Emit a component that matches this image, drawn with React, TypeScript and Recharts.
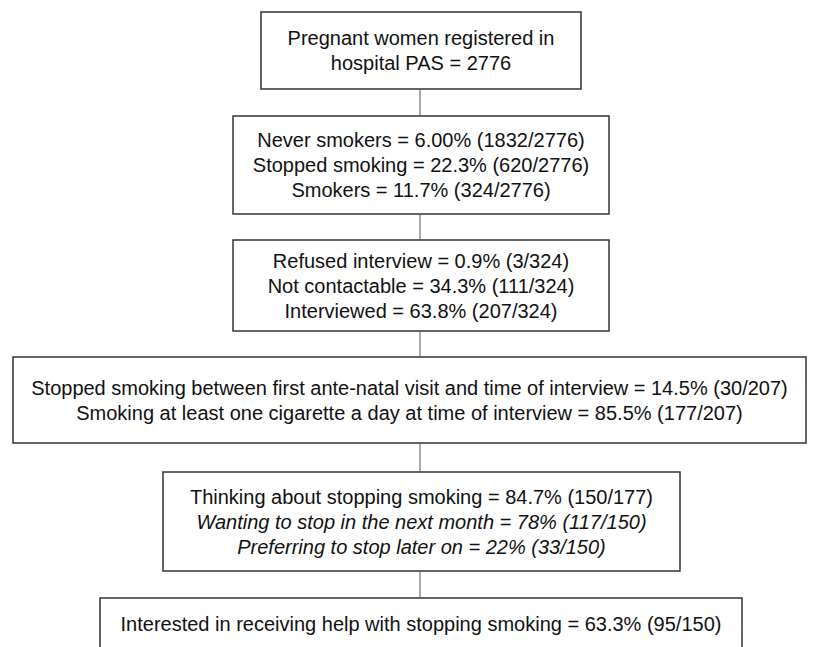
import { ComposedChart, XAxis, YAxis, ReferenceArea, ReferenceLine } from "recharts";

// box contents, top to bottom
const boxTexts: string[][] = [
  ["Pregnant women registered in", "hospital PAS = 2776"],
  [
    "Never smokers = 6.00% (1832/2776)",
    "Stopped smoking = 22.3% (620/2776)",
    "Smokers = 11.7% (324/2776)",
  ],
  [
    "Refused interview = 0.9% (3/324)",
    "Not contactable = 34.3% (111/324)",
    "Interviewed = 63.8% (207/324)",
  ],
  [
    "Stopped smoking between first ante-natal visit and time of interview = 14.5% (30/207)",
    "Smoking at least one cigarette a day at time of interview = 85.5% (177/207)",
  ],
  [
    "Thinking about stopping smoking = 84.7% (150/177)",
    "Wanting to stop in the next month = 78% (117/150)",
    "Preferring to stop later on = 22% (33/150)",
  ],
  ["Interested in receiving help with stopping smoking = 63.3% (95/150)"],
];

// which lines are sub-items (italic)
const subItems: boolean[][] = [
  [false, false],
  [false, false, false],
  [false, false, false],
  [false, false],
  [false, true, true],
  [false],
];

// layout in page pixels
const W = 819;
const H = 647;
const MID = 420;
const boxLeft = [261, 233, 233, 13, 163, 100];
const boxRight = [581, 609, 609, 806, 680, 742];
const boxTop = [12, 116, 240, 357, 472, 598];
const boxBottom = [89, 214, 331, 443, 571, 650];

const FONT = "'Liberation Sans', Arial, sans-serif";
const LINE_H = 25;

const BoxLabel = (props: any) => {
  const { viewBox, lines, italics } = props;
  if (!viewBox) return null;
  const cx = viewBox.x + viewBox.width / 2;
  const cy = viewBox.y + viewBox.height / 2;
  const start = cy - ((lines.length - 1) * LINE_H) / 2;
  return (
    <g>
      {lines.map((t: string, i: number) => (
        <text
          key={i}
          x={cx}
          y={start + i * LINE_H}
          textAnchor="middle"
          dominantBaseline="central"
          fontFamily={FONT}
          fontSize={20}
          fontStyle={italics[i] ? "italic" : "normal"}
          fill="#111"
        >
          {t}
        </text>
      ))}
    </g>
  );
};

export default function App() {
  return (
    <div style={{ position: "absolute", left: 0, top: 0, width: W, height: H, background: "#fff" }}>
      <ComposedChart width={W} height={H} data={[{ x: 0, y: 0 }]} margin={{ top: 0, right: 0, bottom: 0, left: 0 }}>
        <XAxis type="number" dataKey="x" domain={[0, W]} hide allowDataOverflow />
        <YAxis type="number" dataKey="y" domain={[0, H]} reversed hide allowDataOverflow width={0} />
        {boxTexts.slice(1).map((_, i) => (
          <ReferenceLine
            key={`c-${i}`}
            segment={[
              { x: MID, y: boxBottom[i] },
              { x: MID, y: boxTop[i + 1] },
            ]}
            stroke="#555"
            strokeWidth={1}
            ifOverflow="visible"
          />
        ))}
        {boxTexts.map((lines, i) => (
          <ReferenceArea
            key={`b-${i}`}
            x1={boxLeft[i]}
            x2={boxRight[i]}
            y1={boxTop[i]}
            y2={boxBottom[i]}
            fill="#fff"
            fillOpacity={1}
            stroke="#333"
            strokeWidth={1.5}
            ifOverflow="visible"
            label={(p: any) => <BoxLabel viewBox={p.viewBox} lines={lines} italics={subItems[i]} />}
          />
        ))}
      </ComposedChart>
    </div>
  );
}
